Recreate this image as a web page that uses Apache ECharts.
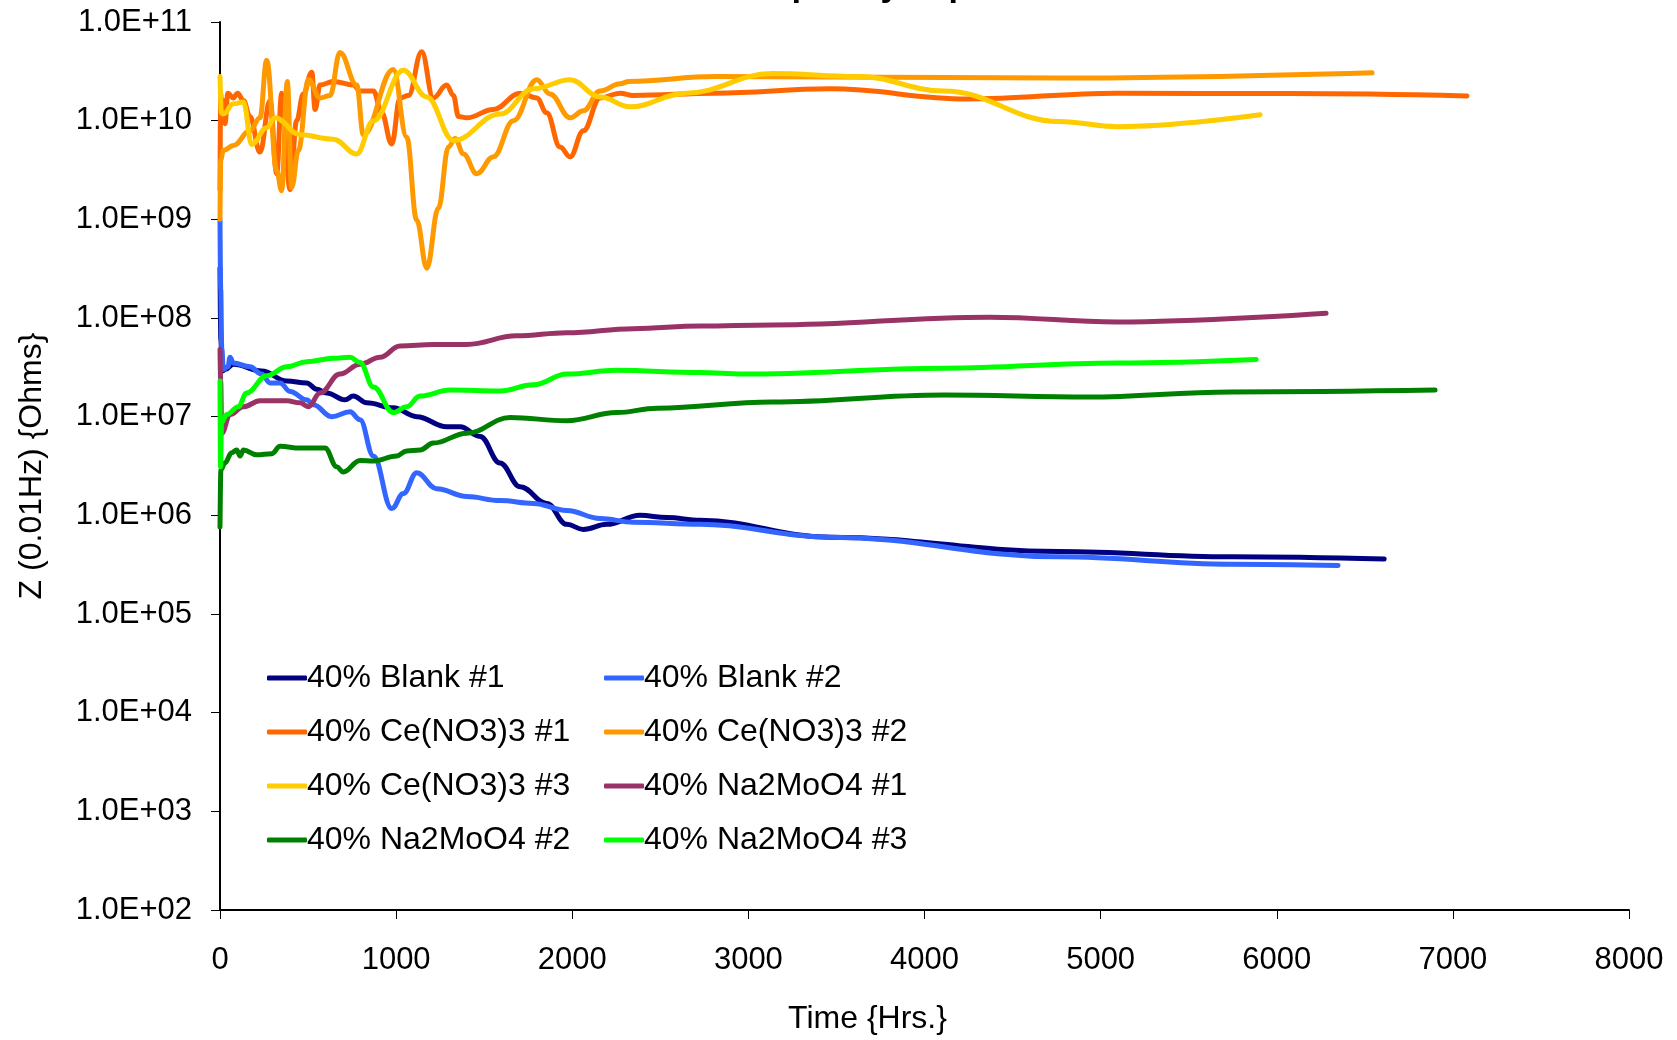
<!DOCTYPE html>
<html>
<head>
<meta charset="utf-8">
<script src="https://cdn.jsdelivr.net/npm/echarts@6/dist/echarts.min.js"></script>
<style>
html,body{margin:0;padding:0;background:#fff;}
#chart{width:1677px;height:1040px;}
</style>
</head>
<body>
<div id="chart"></div>
<script>
// Series names
const seriesNames = ['40% Blank #1','40% Blank #2','40% Ce(NO3)3 #1','40% Ce(NO3)3 #2','40% Ce(NO3)3 #3','40% Na2MoO4 #1','40% Na2MoO4 #2','40% Na2MoO4 #3'];
const seriesColors = ['#000080','#3366FF','#FF6600','#FF9900','#FFCC00','#993366','#008000','#00FF00'];

// [time (hrs), |Z| at 0.01 Hz (ohms)]
const blank1 = [[0,3.2e8],[5,6e7],[12,2.9e7],[30,3.0e7],[76,3.4e7],[237,2.9e7],[379,2.3e7],[492,2.2e7],[549,1.9e7],[606,1.74e7],[710,1.48e7],[757,1.62e7],[833,1.38e7],[984,1.23e7],[1117,1.0e7],[1287,7.9e6],[1363,7.9e6],[1477,6.3e6],[1590,3.4e6],[1704,1.95e6],[1855,1.32e6],[1969,8.1e5],[2063,7.2e5],[2196,8.1e5],[2385,1.0e6],[2537,9.5e5],[2726,8.9e5],[3464,6.0e5],[4764,4.3e5],[5741,3.8e5],[6610,3.6e5]];
const blank2 = [[0,1.0e9],[4,2.0e8],[10,5e7],[19,3.0e7],[45,3.2e7],[57,4.0e7],[76,3.5e7],[170,3.2e7],[237,2.7e7],[284,2.2e7],[341,2.2e7],[398,1.8e7],[492,1.48e7],[530,1.32e7],[634,1.0e7],[738,1.12e7],[795,9.3e6],[871,4.0e6],[975,1.17e6],[1041,1.66e6],[1117,2.7e6],[1230,1.86e6],[1401,1.55e6],[1590,1.41e6],[1779,1.32e6],[1969,1.12e6],[2158,9.3e5],[2347,8.5e5],[2726,8.1e5],[3464,6.0e5],[4764,3.8e5],[5741,3.2e5],[6348,3.1e5]];
const ce1 = [[0,2.0e9],[4,1.9e10],[10,1.2e10],[19,1.6e10],[28,9.3e9],[45,1.9e10],[76,1.7e10],[100,1.9e10],[133,1.6e10],[170,1.1e10],[227,4.8e9],[284,1.6e10],[322,2.9e9],[350,1.9e10],[398,2.0e9],[435,1.0e10],[473,1.86e10],[521,3.1e10],[540,1.3e10],[568,2.3e10],[644,2.5e10],[757,2.3e10],[795,2.0e10],[871,2.0e10],[918,1.2e10],[975,5.8e9],[1022,1.7e10],[1070,1.8e10],[1145,5.0e10],[1211,1.7e10],[1287,2.3e10],[1325,1.8e10],[1354,1.1e10],[1401,1.07e10],[1552,1.3e10],[1704,1.9e10],[1798,1.7e10],[1855,1.2e10],[1931,5.4e9],[1988,4.3e9],[2063,7.9e9],[2158,1.7e10],[2272,1.9e10],[2347,1.8e10],[2811,1.9e10],[3464,2.1e10],[4242,1.66e10],[5093,1.9e10],[6070,1.88e10],[7080,1.78e10]];
const ce2 = [[0,1.0e9],[4,4.0e9],[19,5.0e9],[76,5.6e9],[170,7.9e9],[227,1.07e10],[265,4.1e10],[322,3.1e9],[350,1.95e9],[382,2.5e10],[407,2.1e9],[445,5.0e9],[502,2.6e10],[568,1.7e10],[625,1.8e10],[681,4.9e10],[776,2.3e10],[814,7.2e9],[984,3.3e10],[1060,6.8e9],[1117,9.8e8],[1174,3.2e8],[1240,1.3e9],[1297,5.4e9],[1335,6.6e9],[1382,4.6e9],[1458,2.9e9],[1552,4.3e9],[1666,1.0e10],[1798,2.6e10],[1874,1.86e10],[1988,1.07e10],[2063,1.26e10],[2158,2.0e10],[2272,2.36e10],[2322,2.5e10],[2811,2.8e10],[4764,2.7e10],[6541,3.06e10]];
const ce3 = [[0,2.8e10],[8,1.2e10],[19,1.17e10],[76,1.48e10],[133,1.55e10],[180,5.75e9],[265,8.5e9],[312,1.07e10],[454,7.2e9],[644,6.5e9],[776,4.6e9],[871,1.0e10],[1041,3.24e10],[1174,1.74e10],[1325,6.3e9],[1590,1.17e10],[1779,2.1e10],[1988,2.6e10],[2158,1.74e10],[2328,1.38e10],[2646,1.9e10],[3134,3.0e10],[3623,2.8e10],[4111,2.0e10],[4764,9.8e9],[5093,8.7e9],[5905,1.15e10]];
const na1 = [[0,4.8e7],[4,2.3e7],[10,6.8e6],[57,1.05e7],[133,1.26e7],[227,1.45e7],[379,1.45e7],[454,1.38e7],[502,1.26e7],[568,1.74e7],[681,2.7e7],[795,3.4e7],[909,4.0e7],[1022,5.2e7],[1211,5.4e7],[1401,5.4e7],[1685,6.6e7],[1969,7.1e7],[2347,7.8e7],[2726,8.3e7],[3134,8.5e7],[4372,1.02e8],[5093,9.1e7],[6280,1.12e8]];
const na2 = [[0,7.6e5],[5,2.9e6],[28,3.4e6],[66,4.3e6],[95,4.6e6],[114,4.0e6],[133,4.6e6],[208,4.1e6],[293,4.2e6],[341,5.0e6],[454,4.8e6],[596,4.8e6],[663,3.1e6],[700,2.75e6],[795,3.6e6],[871,3.55e6],[1003,4.0e6],[1060,4.5e6],[1136,4.6e6],[1211,5.4e6],[1401,6.8e6],[1647,9.8e6],[1969,9.1e6],[2253,1.1e7],[2482,1.22e7],[3134,1.41e7],[4111,1.66e7],[4929,1.58e7],[5741,1.78e7],[6899,1.86e7]];
const na3 = [[0,2.3e7],[3,3.1e6],[9,8.7e6],[38,1.05e7],[104,1.26e7],[151,1.74e7],[265,2.6e7],[379,3.2e7],[492,3.6e7],[644,3.9e7],[738,4.0e7],[795,3.55e7],[871,2.0e7],[984,1.1e7],[1060,1.26e7],[1136,1.62e7],[1306,1.86e7],[1590,1.82e7],[1779,2.1e7],[1969,2.7e7],[2253,2.95e7],[2726,2.8e7],[2972,2.7e7],[4111,3.1e7],[5093,3.5e7],[5883,3.8e7]];

const seriesData = [blank1, blank2, ce1, ce2, ce3, na1, na2, na3];

const FONT = "'Liberation Sans', Arial, sans-serif";

const chart = echarts.init(document.getElementById('chart'), null, {renderer:'canvas'});

const series = seriesNames.map((name, i) => ({
  name: name,
  type: 'line',
  data: seriesData[i],
  showSymbol: false,
  symbol: 'none',
  smooth: 0.4,
  smoothMonotone: 'x',
  lineStyle: {color: seriesColors[i], width: 5, cap: 'round', join: 'round'},
  itemStyle: {color: seriesColors[i]},
  z: 2
}));

const legendCommon = {
  orient: 'vertical',
  icon: 'roundRect',
  itemWidth: 40,
  itemHeight: 5,
  itemGap: 22,
  textStyle: {fontSize: 32, fontFamily: FONT, color: '#000', padding: [0,0,0,-5]},
  selectedMode: false
};

const option = {
  animation: false,
  backgroundColor: '#fff',
  title: {
    text: 'Low Frequency Impedance',
    left: 645,
    top: -35,
    textStyle: {fontSize: 34, fontWeight: 'bold', fontFamily: FONT, color: '#000'}
  },
  legend: [
    Object.assign({left: 262, top: 657, data: [seriesNames[0], seriesNames[2], seriesNames[4], seriesNames[6]]}, legendCommon),
    Object.assign({left: 599, top: 657, data: [seriesNames[1], seriesNames[3], seriesNames[5], seriesNames[7]]}, legendCommon)
  ],
  grid: {left: 220, right: 48, top: 22, bottom: 130, containLabel: false},
  xAxis: {
    type: 'value',
    min: 0, max: 8000, interval: 1000,
    name: 'Time {Hrs.}',
    nameLocation: 'middle',
    nameGap: 93,
    nameTextStyle: {fontSize: 32, fontFamily: FONT, color: '#000', padding: [0, 114, 0, 0]},
    axisLine: {show: true, onZero: false, lineStyle: {color: '#000', width: 2}},
    axisTick: {show: true, inside: false, length: 9, lineStyle: {color: '#000', width: 1}},
    axisLabel: {fontSize: 31, fontFamily: FONT, color: '#000', margin: 35,
      formatter: function (v) { return String(v); }},
    splitLine: {show: false}
  },
  yAxis: {
    type: 'log',
    logBase: 10,
    min: 100, max: 1e11,
    name: 'Z (0.01Hz) {Ohms}',
    nameLocation: 'middle',
    nameGap: 172,
    nameTextStyle: {fontSize: 32, fontFamily: FONT, color: '#000'},
    axisLine: {show: true, lineStyle: {color: '#000', width: 2}},
    axisTick: {show: true, inside: false, length: 9, lineStyle: {color: '#000', width: 1}},
    axisLabel: {
      fontSize: 31, fontFamily: FONT, color: '#000', margin: 28,
      formatter: function (v) {
        const e = Math.round(Math.log10(v));
        return '1.0E+' + (e < 10 ? '0' + e : e);
      }
    },
    splitLine: {show: false},
    minorTick: {show: false}
  },
  series: series
};

chart.setOption(option);
</script>
</body>
</html>
